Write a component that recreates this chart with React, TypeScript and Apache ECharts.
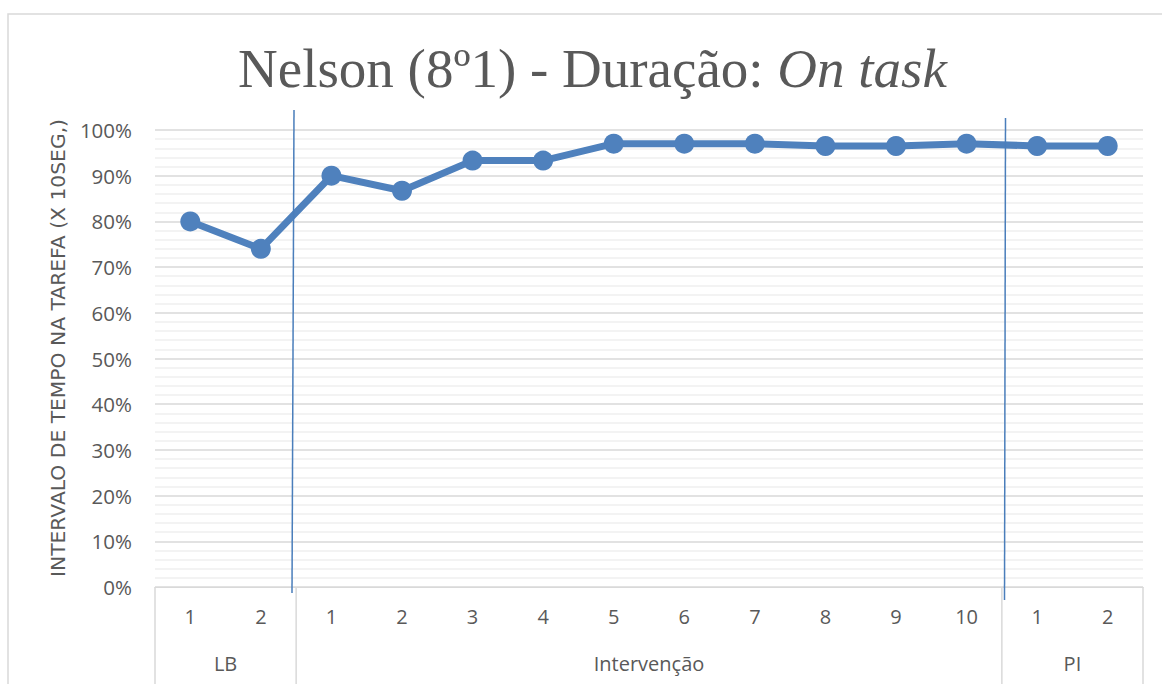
import React, { useEffect, useRef } from "react";
import * as echarts from "echarts";

const phases = ["LB", "Intervenção", "PI"];
const sessionsPerPhase = [2, 10, 2];
const sessionLabels = ["1", "2", "1", "2", "3", "4", "5", "6", "7", "8", "9", "10", "1", "2"];
const onTask = [0.8, 0.74, 0.9, 0.867, 0.933, 0.933, 0.97, 0.97, 0.97, 0.965, 0.965, 0.97, 0.965, 0.965];
const yTicks = [0, 0.1, 0.2, 0.3, 0.4, 0.5, 0.6, 0.7, 0.8, 0.9, 1];
const yAxisTitle = "INTERVALO DE TEMPO NA TAREFA (X 10SEG,)";

const categories = sessionLabels.map((s, i) => `c${i}-${s}`);

export default function App() {
  const ref = useRef<HTMLDivElement>(null);
  useEffect(() => {
    if (!ref.current) return;
    const chart = echarts.init(ref.current, undefined, { renderer: "svg" });
    const textColor = "#595959";
    const gridLeft = 155;
    const gridRight = 19;
    const gridTop = 130;
    const gridBottom = 97;
    const option: any = {
      animation: false,
      backgroundColor: "#ffffff",
      title: {
        text: "{a|Nelson (8º1) - Duração: }{b|On task}",
        left: 233,
        top: 36,
        textStyle: {
          fontWeight: "normal",
          rich: {
            a: { fontFamily: "Liberation Serif", fontSize: 55, fontWeight: "normal", color: textColor },
            b: { fontFamily: "Liberation Serif", fontSize: 55, fontWeight: "normal", fontStyle: "italic", color: textColor },
          },
        },
      },
      grid: { left: gridLeft, right: gridRight, top: gridTop, bottom: gridBottom, containLabel: false },
      xAxis: {
        type: "category",
        data: categories,
        boundaryGap: true,
        axisLine: { show: true, lineStyle: { color: "#d9d9d9", width: 1 } },
        axisTick: { show: false },
        axisLabel: {
          formatter: (v: string) => v.split("-")[1],
          color: textColor,
          fontFamily: "Open Sans",
          fontSize: 20,
          margin: 19,
          interval: 0,
        },
        splitLine: { show: false },
      },
      yAxis: {
        type: "value",
        min: yTicks[0],
        max: yTicks[yTicks.length - 1],
        interval: 0.1,
        axisLine: { show: false },
        axisTick: { show: false },
        axisLabel: {
          formatter: (v: number) => `${Math.round(v * 100)}%`,
          color: textColor,
          fontFamily: "Open Sans",
          fontSize: 20.5,
          margin: 23,
        },
        splitLine: { show: true, lineStyle: { color: "#d9d9d9", width: 1.5 } },
        minorTick: { show: false, splitNumber: 5 },
        minorSplitLine: { show: true, lineStyle: { color: "#efefef", width: 1.5 } },
      },
      series: [
        {
          type: "line",
          data: onTask,
          symbol: "circle",
          symbolSize: 20,
          lineStyle: { color: "#4f81bd", width: 7 },
          itemStyle: { color: "#4f81bd" },
          z: 5,
        },
      ],
    };
    chart.setOption(option);

    const px = (i: number) => chart.convertToPixel({ xAxisIndex: 0 }, categories[i]) as number;
    const step = px(1) - px(0);
    const bottomY = 684 - gridBottom;
    const graphics: any[] = [
      {
        type: "rect",
        shape: { x: 8, y: 14, width: 1200, height: 700 },
        style: { fill: "none", stroke: "#d9d9d9", lineWidth: 1.5 },
        silent: true,
        z: -1,
      },
      {
        type: "text",
        x: 58,
        y: 348,
        rotation: Math.PI / 2,
        style: {
          text: yAxisTitle,
          fill: textColor,
          font: "20.3px 'DejaVu Sans'",
          textAlign: "center",
          textVerticalAlign: "middle",
        },
        silent: true,
      },
    ];
    let start = 0;
    const boundaries: number[] = [px(0) - step / 2];
    phases.forEach((name, k) => {
      const end = start + sessionsPerPhase[k] - 1;
      const left = px(start) - step / 2;
      const right = px(end) + step / 2;
      boundaries.push(right);
      graphics.push({
        type: "text",
        x: (left + right) / 2,
        y: 663,
        style: {
          text: name,
          fill: textColor,
          font: "20px 'Open Sans'",
          textAlign: "center",
          textVerticalAlign: "middle",
        },
        silent: true,
      });
      start = end + 1;
    });
    boundaries.forEach((bx) => {
      graphics.push({
        type: "line",
        shape: { x1: bx, y1: bottomY, x2: bx, y2: 700 },
        style: { stroke: "#d9d9d9", lineWidth: 1.5 },
        silent: true,
      });
    });
    // phase-change lines drawn by hand in the original
    graphics.push({
      type: "line",
      shape: { x1: 294, y1: 110, x2: 292, y2: 593 },
      style: { stroke: "#4a7ebb", lineWidth: 1.5 },
      silent: true,
      z: 10,
    });
    graphics.push({
      type: "line",
      shape: { x1: 1005.5, y1: 118, x2: 1004.5, y2: 600 },
      style: { stroke: "#4a7ebb", lineWidth: 1.5 },
      silent: true,
      z: 10,
    });
    chart.setOption({ graphic: graphics });

    return () => chart.dispose();
  }, []);
  return (
    <div
      ref={ref}
      style={{ position: "absolute", left: 0, top: 0, width: 1162, height: 684 }}
    />
  );
}
